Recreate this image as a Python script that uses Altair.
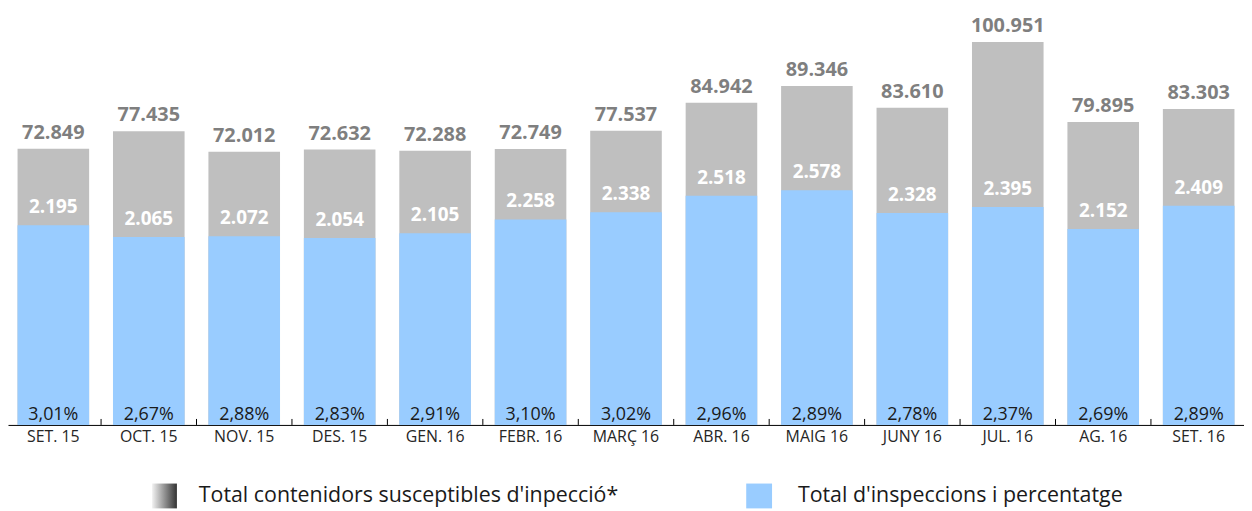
import altair as alt
import pandas as pd

months = ["SET. 15", "OCT. 15", "NOV. 15", "DES. 15", "GEN. 16", "FEBR. 16", "MARÇ 16",
          "ABR. 16", "MAIG 16", "JUNY 16", "JUL. 16", "AG. 16", "SET. 16"]
totals = [72849, 77435, 72012, 72632, 72288, 72749, 77537, 84942, 89346, 83610, 100951, 79895, 83303]
inspections = [2195, 2065, 2072, 2054, 2105, 2258, 2338, 2518, 2578, 2328, 2395, 2152, 2409]
percents = [3.01, 2.67, 2.88, 2.83, 2.91, 3.10, 3.02, 2.96, 2.89, 2.78, 2.37, 2.69, 2.89]

legend_total = "Total contenidors susceptibles d'inpecció*"
legend_insp = "Total d'inspeccions i percentatge"

df = pd.DataFrame({
    "month": months,
    "total": totals,
    "insp": inspections,
    "pct": percents,
})
df["total_lbl"] = [f"{v:,}".replace(",", ".") for v in totals]
df["insp_lbl"] = [f"{v:,}".replace(",", ".") for v in inspections]
df["pct_lbl"] = [f"{p:.2f}".replace(".", ",") + "%" for p in percents]

FONT = "Open Sans"
W, H = 1244, 418

xscale = alt.Scale(paddingInner=0.25, paddingOuter=0.1)
x_axis = alt.Axis(title=None, labelFont=FONT, labelFontSize=16, labelColor="#262626",
                  domain=True, domainColor="#000000", domainWidth=1, ticks=False,
                  labelPadding=4, labelAngle=0, grid=False)
X = alt.X("month:N", sort=months, scale=xscale, axis=x_axis)

y1 = alt.Scale(domain=[0, 109500], nice=False, zero=True)
y2 = alt.Scale(domain=[0, 4563], nice=False, zero=True)

base = alt.Chart(df)

gray = base.mark_bar(color="#BFBFBF").encode(x=X, y=alt.Y("total:Q", scale=y1, axis=None))
gray_lbl = base.mark_text(font=FONT, fontSize=20, fontWeight="bold", color="#7F7F7F",
                          baseline="alphabetic", dy=-10).encode(
    x=X, y=alt.Y("total:Q", scale=y1, axis=None), text="total_lbl:N")

grp1 = alt.layer(gray, gray_lbl)

blue = base.mark_bar(color="#99CCFF").encode(x=X, y=alt.Y("insp:Q", scale=y2, axis=None))
white_lbl = base.mark_text(font=FONT, fontSize=19, fontWeight="bold", color="#FFFFFF",
                           baseline="alphabetic", dy=-12).encode(
    x=X, y=alt.Y("insp:Q", scale=y2, axis=None), text="insp_lbl:N")
pct_lbl = base.mark_text(font=FONT, fontSize=18, color="#1A1A1A",
                         baseline="alphabetic").encode(
    x=X, y=alt.value(H - 5), text="pct_lbl:N")

grp2 = alt.layer(blue, white_lbl, pct_lbl)

ticks = alt.Chart(pd.DataFrame({"month": months[1:]})).mark_rule(
    color="#000000", strokeWidth=1, xOffset=-12).encode(
    x=alt.X("month:N", sort=months, scale=xscale, axis=x_axis, bandPosition=0),
    y=alt.value(H - 6), y2=alt.value(H))

one = pd.DataFrame({"k": [0]})
grad = alt.LinearGradient(gradient="linear",
                          stops=[alt.GradientStop(color="#F2F2F2", offset=0),
                                 alt.GradientStop(color="#333333", offset=1)],
                          x1=0, x2=1, y1=0, y2=0)
leg1 = alt.Chart(one).mark_rect(fill=grad).encode(
    x=alt.value(145), x2=alt.value(170), y=alt.value(477), y2=alt.value(502))
leg2 = alt.Chart(one).mark_rect(fill="#99CCFF").encode(
    x=alt.value(743), x2=alt.value(769), y=alt.value(477), y2=alt.value(502))
leg1t = alt.Chart(one).mark_text(font=FONT, fontSize=21.5, color="#1A1A1A", align="left",
                                 baseline="alphabetic").encode(
    x=alt.value(192), y=alt.value(496), text=alt.value(legend_total))
leg2t = alt.Chart(one).mark_text(font=FONT, fontSize=21.5, color="#1A1A1A", align="left",
                                 baseline="alphabetic").encode(
    x=alt.value(795), y=alt.value(496), text=alt.value(legend_insp))

chart = alt.layer(grp1, grp2, ticks, leg1, leg2, leg1t, leg2t).resolve_scale(
    y="independent"
).properties(
    width=W, height=H,
    autosize=alt.AutoSizeParams(type="none"),
    padding={"left": 0, "top": 0, "right": 0, "bottom": 85},
).configure_view(stroke=None)

chart.save("out.html", embed_options={"renderer": "svg", "actions": False})
